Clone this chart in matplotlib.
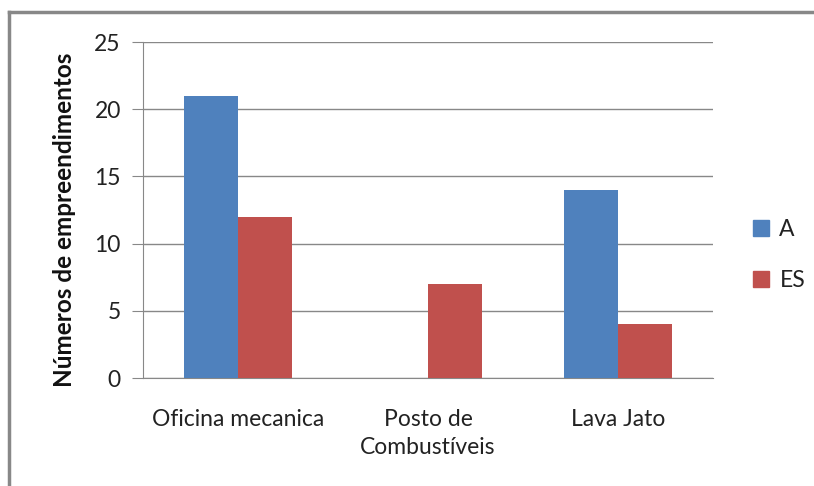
import matplotlib
matplotlib.use("Agg")
import matplotlib.pyplot as plt
import numpy as np
from matplotlib.lines import Line2D

categorias = ["Oficina mecanica", "Posto de\nCombustíveis", "Lava Jato"]
serie_a = [21, 0, 14]
serie_es = [12, 7, 4]
series = ["A", "ES"]
cores = ["#4F81BD", "#C0504D"]

plt.rcParams['font.family'] = ['Lato', 'DejaVu Sans']

fig = plt.figure(figsize=(8.14, 4.86), dpi=100)
ax = fig.add_axes([143/814, 1 - 378/486, 570/814, 336/486])

x = np.arange(len(categorias))
w = 1 / 3.5  # gap width 150%
ax.bar(x - w/2, serie_a, w, color=cores[0], label=series[0], zorder=3)
ax.bar(x + w/2, serie_es, w, color=cores[1], label=series[1], zorder=3)

ax.set_xlim(-0.5, 2.5)
ax.set_ylim(0, 25)
ax.set_yticks(range(0, 26, 5))
ax.yaxis.grid(True, color="#888888", linewidth=1, zorder=0)
ax.set_xticks(x)
ax.set_xticklabels(categorias, fontsize=16.5, linespacing=1.45, color="#222222")
ax.tick_params(axis="x", length=0, pad=22)
ax.tick_params(axis="y", length=8, color="#888888", labelsize=16.5, pad=8,
               labelcolor="#222222")
for s in ["top", "right"]:
    ax.spines[s].set_visible(False)
for s in ["left", "bottom"]:
    ax.spines[s].set_color("#888888")

ax.set_ylabel("Números de empreendimentos", fontsize=17.5, fontweight="bold",
              color="#111111")
ax.yaxis.set_label_coords(-0.117, 0.47)

handles = [Line2D([], [], marker="s", linestyle="none", markersize=11,
                  color=c) for c in cores]
fig.legend(handles, series, loc="center left", bbox_to_anchor=(729/814, 1 - 255/486),
           frameon=False, fontsize=16.5, handletextpad=0.3, labelspacing=1.3,
           handlelength=1.0, labelcolor="#222222")

# moldura do gráfico
fig.add_artist(Line2D([9/814, 9/814], [0, 1 - 12/486], color="#888888", lw=2.5,
                      transform=fig.transFigure))
fig.add_artist(Line2D([9/814, 1], [1 - 12/486, 1 - 12/486], color="#888888", lw=2.5,
                      transform=fig.transFigure))

fig.savefig("out.png", dpi=100)
